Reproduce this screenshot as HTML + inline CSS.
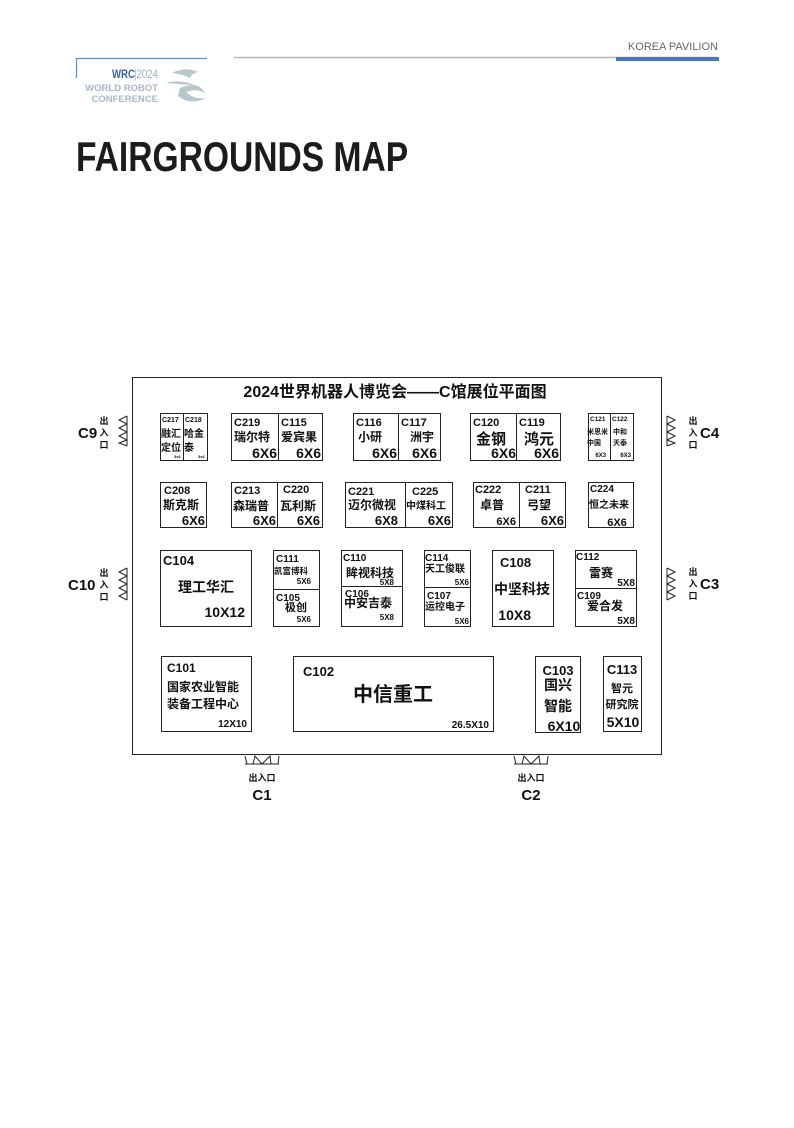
<!DOCTYPE html>
<html><head><meta charset="utf-8"><style>
html,body{margin:0;padding:0;background:#fff;}
body{width:794px;height:1123px;position:relative;overflow:hidden;}
svg text{font-family:"Liberation Sans","Noto Sans CJK SC",sans-serif;font-weight:bold;fill:#111;}
</style></head><body>
<svg width="794" height="1123" viewBox="0 0 794 1123" xmlns="http://www.w3.org/2000/svg">
<!-- header -->
<text x="718" y="50" text-anchor="end" style="font-weight:normal;font-size:11px;fill:#666">KOREA PAVILION</text>
<line x1="234" y1="57.5" x2="718" y2="57.5" stroke="#b8b8b8" stroke-width="1.5"/>
<rect x="616" y="57" width="103" height="4" fill="#4a78c0"/>
<path d="M76.5 78 V58.5 H207" fill="none" stroke="#6a8cc8" stroke-width="1.2"/>
<text x="112" y="78" transform="translate(112 0) scale(0.8 1) translate(-112 0)" style="font-size:12px;fill:#3a64ad">WRC</text>
<text x="134" y="78" transform="translate(134 0) scale(0.8 1) translate(-134 0)" style="font-size:12px;fill:#9ab0c4;font-weight:normal">|2024</text>
<text x="158" y="91" text-anchor="end" style="font-size:9.5px;fill:#a8b8c8">WORLD ROBOT</text>
<text x="158" y="102" text-anchor="end" style="font-size:9.5px;fill:#a8b8c8">CONFERENCE</text>
<path d="M172 73 Q185 66 198 72 Q192 73 190 78 Q182 74 172 73Z M166 83 Q182 79 194 85 Q176 84 166 83Z M180 88 Q198 80 205 93 Q196 88 186 92 Q195 100 206 98 Q190 106 178 96Z" fill="#b6c8cc"/>
<text x="76" y="171" transform="translate(76 0) scale(0.8 1) translate(-76 0)" style="font-size:42px;fill:#1c1c1c">FAIRGROUNDS MAP</text>

<!-- frame -->
<rect x="132.5" y="377.5" width="529" height="377" fill="none" stroke="#222" stroke-width="1"/>
<text x="395" y="397" text-anchor="middle" style="font-size:16px">2024世界机器人博览会——C馆展位平面图</text>

<g fill="none" stroke="#222" stroke-width="1">
<rect x="160.5" y="413.5" width="47" height="47"/><line x1="183.5" y1="413.5" x2="183.5" y2="460.5"/>
<rect x="231.5" y="413.5" width="91" height="47"/><line x1="278.5" y1="413.5" x2="278.5" y2="460.5"/>
<rect x="353.5" y="413.5" width="87" height="47"/><line x1="398.5" y1="413.5" x2="398.5" y2="460.5"/>
<rect x="470.5" y="413.5" width="90" height="47"/><line x1="516.5" y1="413.5" x2="516.5" y2="460.5"/>
<rect x="588.5" y="413.5" width="45" height="47"/><line x1="610.5" y1="413.5" x2="610.5" y2="460.5"/>
<rect x="160.5" y="482.5" width="46" height="45"/>
<rect x="231.5" y="482.5" width="91" height="45"/><line x1="277.5" y1="482.5" x2="277.5" y2="527.5"/>
<rect x="345.5" y="482.5" width="107" height="45"/><line x1="405.5" y1="482.5" x2="405.5" y2="527.5"/>
<rect x="473.5" y="482.5" width="92" height="45"/><line x1="519.5" y1="482.5" x2="519.5" y2="527.5"/>
<rect x="588.5" y="482.5" width="45" height="45"/>
<rect x="160.5" y="550.5" width="91" height="76"/>
<rect x="273.5" y="550.5" width="46" height="76"/><line x1="273.5" y1="589.5" x2="319.5" y2="589.5"/>
<rect x="341.5" y="550.5" width="61" height="76"/><line x1="341.5" y1="586.5" x2="402.5" y2="586.5"/>
<rect x="424.5" y="550.5" width="46" height="76"/><line x1="424.5" y1="587.5" x2="470.5" y2="587.5"/>
<rect x="492.5" y="550.5" width="61" height="76"/>
<rect x="575.5" y="550.5" width="61" height="76"/><line x1="575.5" y1="588.5" x2="636.5" y2="588.5"/>
<rect x="161.5" y="656.5" width="90" height="75"/>
<rect x="293.5" y="656.5" width="200" height="75"/>
<rect x="535.5" y="656.5" width="45" height="76"/>
<rect x="603.5" y="656.5" width="38" height="75"/>
<!-- doors left -->
<path d="M127 416 V446 M127 416 L119 420 L127 424 M127 424 L119 428 L127 432 M127 432 L119 436 L127 440 M127 440 L119 443 L127 446"/>
<path d="M127 568 V600 M127 568 L119 572 L127 576 M127 576 L119 580 L127 584 M127 584 L119 588 L127 592 M127 592 L119 596 L127 600"/>
<!-- doors right -->
<path d="M667 416 V446 M667 416 L675 420 L667 424 M667 424 L675 428 L667 432 M667 432 L675 436 L667 440 M667 440 L675 443 L667 446"/>
<path d="M667 568 V600 M667 568 L675 572 L667 576 M667 576 L675 580 L667 584 M667 584 L675 588 L667 592 M667 592 L675 596 L667 600"/>
<!-- doors bottom -->
<path d="M245 764 H279 M245 756 L247 764 M253 764 L255 756 L262 764 M262 764 L270 756 L271 764 M279 756 L278 764"/>
<path d="M514 764 H548 M514 756 L516 764 M522 764 L524 756 L531 764 M531 764 L539 756 L540 764 M548 756 L547 764"/>
</g>

<g style="font-size:9px">
<text x="104" y="424" text-anchor="middle">出</text><text x="104" y="436" text-anchor="middle">入</text><text x="104" y="448" text-anchor="middle">口</text>
<text x="104" y="576" text-anchor="middle">出</text><text x="104" y="588" text-anchor="middle">入</text><text x="104" y="600" text-anchor="middle">口</text>
<text x="693" y="424" text-anchor="middle">出</text><text x="693" y="436" text-anchor="middle">入</text><text x="693" y="448" text-anchor="middle">口</text>
<text x="693" y="575" text-anchor="middle">出</text><text x="693" y="587" text-anchor="middle">入</text><text x="693" y="599" text-anchor="middle">口</text>
<text x="262" y="781" text-anchor="middle">出入口</text>
<text x="531" y="781" text-anchor="middle">出入口</text>
</g>
<g style="font-size:15px">
<text x="78" y="438">C9</text><text x="68" y="590">C10</text>
<text x="700" y="438">C4</text><text x="700" y="589">C3</text>
<text x="262" y="800" text-anchor="middle">C1</text><text x="531" y="800" text-anchor="middle">C2</text>
</g>

<text x="162" y="422" style="font-size:7px">C217</text><text x="185" y="422" style="font-size:7px">C218</text>
<text x="161" y="437" style="font-size:10px">融汇</text><text x="184" y="437" style="font-size:10px">哈金</text>
<text x="161" y="451" style="font-size:10px">定位</text><text x="184" y="451" style="font-size:10px">泰</text>
<text x="174" y="458" style="font-size:4px">3x6</text><text x="198" y="458" style="font-size:4px">3x6</text>

<text x="234" y="426" style="font-size:11px">C219</text><text x="281" y="426" style="font-size:11px">C115</text>
<text x="234" y="441" style="font-size:12px">瑞尔特</text><text x="281" y="441" style="font-size:12px">爱宾果</text>
<text x="277" y="458" text-anchor="end" style="font-size:14px">6X6</text><text x="321" y="458" text-anchor="end" style="font-size:14px">6X6</text>

<text x="356" y="426" style="font-size:11px">C116</text><text x="401" y="426" style="font-size:11px">C117</text>
<text x="358" y="441" style="font-size:12px">小研</text><text x="410" y="441" style="font-size:12px">洲宇</text>
<text x="397" y="458" text-anchor="end" style="font-size:14px">6X6</text><text x="437" y="458" text-anchor="end" style="font-size:14px">6X6</text>

<text x="473" y="426" style="font-size:11px">C120</text><text x="519" y="426" style="font-size:11px">C119</text>
<text x="476" y="444" style="font-size:15px">金钢</text><text x="524" y="444" style="font-size:15px">鸿元</text>
<text x="516" y="458" text-anchor="end" style="font-size:14px">6X6</text><text x="559" y="458" text-anchor="end" style="font-size:14px">6X6</text>

<text x="590" y="421" style="font-size:6.5px">C121</text><text x="612" y="421" style="font-size:6.5px">C122</text>
<text x="587" y="434" style="font-size:7px">米思米</text><text x="613" y="434" style="font-size:7px">中和</text>
<text x="587" y="445" style="font-size:7px">中国</text><text x="613" y="445" style="font-size:7px">天泰</text>
<text x="606" y="457" text-anchor="end" style="font-size:6px">6X3</text><text x="631" y="457" text-anchor="end" style="font-size:6px">6X3</text>

<text x="164" y="494" style="font-size:11px">C208</text>
<text x="163" y="509" style="font-size:12px">斯克斯</text>
<text x="205" y="525" text-anchor="end" style="font-size:13px">6X6</text>
<text x="234" y="494" style="font-size:11px">C213</text><text x="283" y="493" style="font-size:11px">C220</text>
<text x="233" y="510" style="font-size:12px">森瑞普</text><text x="280" y="510" style="font-size:12px">瓦利斯</text>
<text x="276" y="525" text-anchor="end" style="font-size:13px">6X6</text><text x="320" y="525" text-anchor="end" style="font-size:13px">6X6</text>
<text x="348" y="495" style="font-size:11px">C221</text><text x="412" y="495" style="font-size:11px">C225</text>
<text x="348" y="509" style="font-size:12px">迈尔微视</text><text x="406" y="509" style="font-size:10px">中煤科工</text>
<text x="398" y="525" text-anchor="end" style="font-size:13px">6X8</text><text x="451" y="525" text-anchor="end" style="font-size:13px">6X6</text>
<text x="475" y="493" style="font-size:11px">C222</text><text x="525" y="493" style="font-size:11px">C211</text>
<text x="480" y="509" style="font-size:12px">卓普</text><text x="527" y="509" style="font-size:12px">弓望</text>
<text x="516" y="525" text-anchor="end" style="font-size:11px">6X6</text><text x="564" y="525" text-anchor="end" style="font-size:13px">6X6</text>
<text x="590" y="492" style="font-size:10px">C224</text>
<text x="589" y="508" style="font-size:10px">恒之未来</text>
<text x="617" y="526" text-anchor="middle" style="font-size:11px">6X6</text>

<text x="163" y="565" style="font-size:13px">C104</text>
<text x="206" y="592" text-anchor="middle" style="font-size:14px">理工华汇</text>
<text x="245" y="617" text-anchor="end" style="font-size:14px">10X12</text>

<text x="276" y="562" style="font-size:10px">C111</text>
<text x="274" y="574" style="font-size:8.5px">凯富博科</text>
<text x="311" y="584" text-anchor="end" style="font-size:8px">5X6</text>
<text x="276" y="601" style="font-size:10px">C105</text>
<text x="285" y="611" style="font-size:11px">极创</text>
<text x="311" y="622" text-anchor="end" style="font-size:8px">5X6</text>

<text x="343" y="561" style="font-size:10px">C110</text>
<text x="346" y="577" style="font-size:12px">眸视科技</text>
<text x="394" y="585" text-anchor="end" style="font-size:8px">5X8</text>
<text x="345" y="597" style="font-size:10px">C106</text>
<text x="344" y="607" style="font-size:12px">中安吉泰</text>
<text x="394" y="620" text-anchor="end" style="font-size:8px">5X8</text>

<text x="425" y="561" style="font-size:10px">C114</text>
<text x="425" y="572" style="font-size:10px">天工俊联</text>
<text x="469" y="585" text-anchor="end" style="font-size:8px">5X6</text>
<text x="427" y="599" style="font-size:10px">C107</text>
<text x="425" y="610" style="font-size:10px">运控电子</text>
<text x="469" y="624" text-anchor="end" style="font-size:8px">5X6</text>

<text x="500" y="567" style="font-size:13px">C108</text>
<text x="522" y="594" text-anchor="middle" style="font-size:14px">中坚科技</text>
<text x="531" y="620" text-anchor="end" style="font-size:14px">10X8</text>

<text x="576" y="560" style="font-size:10px">C112</text>
<text x="589" y="577" style="font-size:12px">雷赛</text>
<text x="635" y="586" text-anchor="end" style="font-size:10px">5X8</text>
<text x="577" y="599" style="font-size:10px">C109</text>
<text x="587" y="610" style="font-size:12px">爱合发</text>
<text x="635" y="624" text-anchor="end" style="font-size:10px">5X8</text>

<text x="167" y="672" style="font-size:12px">C101</text>
<text x="167" y="691" style="font-size:12px">国家农业智能</text>
<text x="167" y="708" style="font-size:12px">装备工程中心</text>
<text x="247" y="727" text-anchor="end" style="font-size:10px">12X10</text>

<text x="303" y="676" style="font-size:13px">C102</text>
<text x="393" y="701" text-anchor="middle" style="font-size:20px">中信重工</text>
<text x="489" y="728" text-anchor="end" style="font-size:10px">26.5X10</text>

<text x="558" y="675" text-anchor="middle" style="font-size:13px">C103</text>
<text x="558" y="690" text-anchor="middle" style="font-size:14px">国兴</text>
<text x="558" y="711" text-anchor="middle" style="font-size:14px">智能</text>
<text x="564" y="731" text-anchor="middle" style="font-size:14px">6X10</text>

<text x="622" y="674" text-anchor="middle" style="font-size:13px">C113</text>
<text x="622" y="692" text-anchor="middle" style="font-size:11px">智元</text>
<text x="622" y="708" text-anchor="middle" style="font-size:11px">研究院</text>
<text x="623" y="727" text-anchor="middle" style="font-size:14px">5X10</text>
</svg>
</body></html>
